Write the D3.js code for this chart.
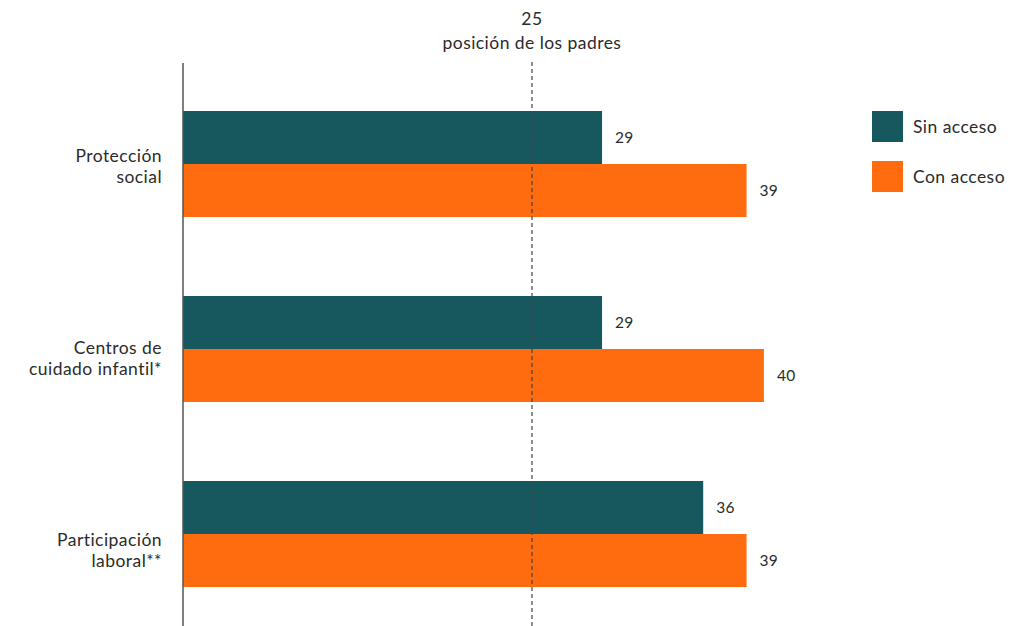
<!DOCTYPE html>
<html><head><meta charset="utf-8">
<script src="https://cdn.jsdelivr.net/npm/d3@7"></script>
<style>
body{margin:0;background:#fff;}
text{font-family:Lato,"Noto Sans",sans-serif;fill:#2b2b2b;}
.lbl{font-size:17.5px;letter-spacing:0.45px;}
</style></head>
<body><svg id="chart" width="1026" height="626"></svg>
<script>
const categories = [["Protección","social"],["Centros de","cuidado infantil*"],["Participación","laboral**"]];
const seriesNames = ["Sin acceso","Con acceso"];
const sinAcceso = [29, 29, 36];
const conAcceso = [39, 40.2, 39];
const valueLabels = [["29","39"],["29","40"],["36","39"]];
const refValue = 24.15;
const refLabel = ["25","posición de los padres"];
const colors = ["#17585f","#ff6c0f"];

const svg = d3.select("#chart");
const x = d3.scaleLinear().domain([0, 10]).range([183, 327.5]);
const catKeys = categories.map(c => c.join(" "));
const y = d3.scaleBand().domain(catKeys).range([111, 587]).paddingInner(0.427).paddingOuter(0);
const yLabel = d3.scalePoint().domain(catKeys).range([166.7, 550.7]);
const ys = d3.scaleBand().domain(seriesNames).range([0, y.bandwidth()]).padding(0);
const color = d3.scaleOrdinal().domain(seriesNames).range(colors);

const rows = catKeys.map((k,i)=>({key:k, lines:categories[i], vals:[sinAcceso[i], conAcceso[i]], labels:valueLabels[i]}));

const g = svg.selectAll("g.cat").data(rows).enter().append("g").attr("class","cat")
  .attr("transform", d=>`translate(0,${y(d.key)})`);

g.selectAll("rect").data(d=>d.vals.map((v,j)=>({name:seriesNames[j], v, label:d.labels[j]})))
  .enter().append("rect")
  .attr("x", x(0)).attr("y", d=>ys(d.name))
  .attr("width", d=>x(d.v)-x(0)).attr("height", ys.bandwidth())
  .attr("fill", d=>color(d.name));

g.selectAll("text.val").data(d=>d.vals.map((v,j)=>({name:seriesNames[j], v, label:d.labels[j]})))
  .enter().append("text").attr("class","val")
  .attr("x", d=>x(d.v)+13).attr("y", d=>ys(d.name)+ys.bandwidth()/2)
  .attr("dy","0.35em").attr("font-size",15.5).attr("letter-spacing","0.3px").text(d=>d.label);

// category labels
rows.forEach(d=>{
  const t = svg.append("text").attr("class","lbl").attr("text-anchor","end");
  const n = d.lines.length;
  d.lines.forEach((line,i)=>{
    t.append("tspan").attr("x",162).attr("y", yLabel(d.key) + (i-(n-1)/2)*20.7).attr("dy","0.35em").text(line);
  });
});

// axis line
svg.append("line").attr("x1",x(0)).attr("x2",x(0)).attr("y1",63).attr("y2",626)
  .attr("stroke","#555").attr("stroke-width",1.5);

// reference line
svg.append("line").attr("x1",x(refValue)).attr("x2",x(refValue)).attr("y1",62).attr("y2",626)
  .attr("stroke","#444").attr("stroke-width",1.2).attr("stroke-dasharray","4,3");
svg.append("text").attr("class","lbl").attr("x",x(refValue)).attr("y",19).attr("dy","0.35em").attr("text-anchor","middle")
  .text(refLabel[0]);
svg.append("text").attr("class","lbl").attr("x",x(refValue)).attr("y",43).attr("dy","0.35em").attr("text-anchor","middle")
  .text(refLabel[1]);

// legend
const lg = svg.selectAll("g.leg").data(seriesNames).enter().append("g").attr("class","leg")
  .attr("transform",(d,i)=>`translate(872,${111+i*50})`);
lg.append("rect").attr("width",31).attr("height",31).attr("fill",d=>color(d));
lg.append("text").attr("class","lbl").attr("x",41).attr("y",16).attr("dy","0.35em").text(d=>d);
</script></body></html>
